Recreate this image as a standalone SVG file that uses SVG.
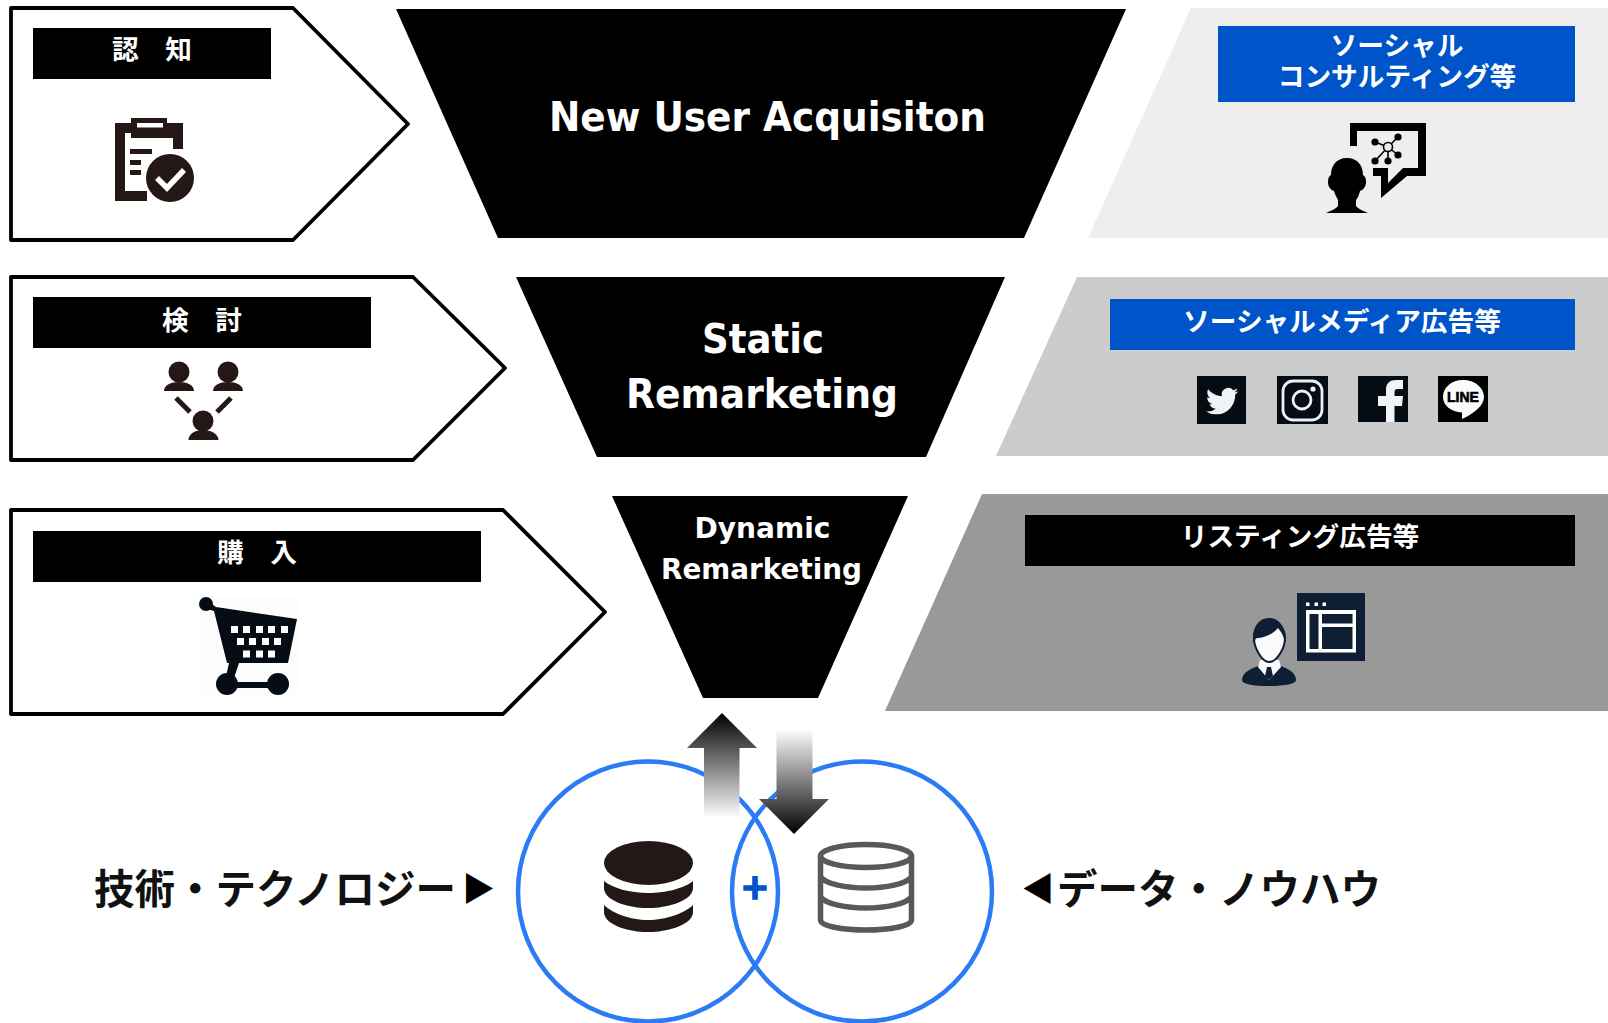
<svg xmlns="http://www.w3.org/2000/svg" width="1608" height="1023" viewBox="0 0 1608 1023">
<style>
.jp{font-family:"Noto Sans CJK JP","Noto Sans",sans-serif;font-weight:700;text-anchor:middle}
.lb{font-size:26.700px;fill:#fff}
.big{font-size:40.500px;fill:#111;text-anchor:start}
.tri{font-size:33px;fill:#000}
.en{font-family:"DejaVu Sans","Liberation Sans",sans-serif;font-weight:700;fill:#fff;text-anchor:middle}
.pent{fill:#fff;stroke:#000;stroke-width:3.800;stroke-linejoin:round}
.ic{fill:#231815}
.dk{fill:#050c14}
.lt{fill:#f2f3f5}
.nv{fill:#0f1f33}
.ring{fill:none;stroke:#2a7bf5;stroke-width:4.500}
.db{fill:none;stroke:#595959;stroke-width:5.500}
</style>
<defs>
<linearGradient id="gu" x1="0" y1="0" x2="0" y2="1"><stop offset="0" stop-color="#000"/><stop offset="1" stop-color="#fff"/></linearGradient>
<linearGradient id="gd" x1="0" y1="1" x2="0" y2="0"><stop offset="0" stop-color="#000"/><stop offset="1" stop-color="#fff"/></linearGradient>
</defs>
<rect width="1608" height="1023" fill="#fff"/>

<g id="panel-1">
<polygon points="1191,8 1608,8 1608,238 1088,238" fill="#eee"/>
<rect x="1218" y="26" width="357" height="76" fill="#0054c9"/>
<text class="jp lb" x="1397" y="55">ソーシャル</text>
<text class="jp lb" x="1397" y="86">コンサルティング等</text>
<path fill="#000" d="M1350 146V123H1426V176H1407L1381 198V176H1373V168H1388V183L1403 168H1418V131H1357V146Z"/>
<path fill="none" stroke="#000" stroke-width="1.600" d="M1375 142L1388 147L1398 137M1388 147L1398 155M1388 147V161M1388 147L1375 161"/>
<circle cx="1388" cy="147" r="4.500" fill="#eee" stroke="#000" stroke-width="1.600"/>
<circle cx="1375" cy="142" r="3.600"/><circle cx="1398" cy="137" r="3.600"/><circle cx="1398" cy="155" r="3.600"/><circle cx="1388" cy="161" r="3.600"/><circle cx="1375" cy="161" r="3.600"/>
<path fill="#000" d="M1347 158C1336 158 1331 166 1331 175C1329 176 1328 178 1328 182C1328 187 1331 190 1334 191C1335 195 1337 198 1338 200V206C1336 209 1330 211 1326 213H1368C1364 211 1358 209 1356 206V200C1358 198 1359 195 1360 191C1363 190 1366 187 1366 182C1366 178 1365 176 1363 175C1363 166 1358 158 1347 158Z"/>
</g>

<g id="panel-2">
<polygon points="1077,277 1608,277 1608,456 996,456" fill="#ccc"/>
<rect x="1110" y="299" width="465" height="51" fill="#0054c9"/>
<text class="jp lb" x="1342" y="331">ソーシャルメディア広告等</text>
<rect class="dk" x="1197" y="376" width="49" height="48"/>
<path class="lt" transform="translate(1206 385) scale(1.35)" d="M23.953 4.57a10 10 0 01-2.825.775 4.958 4.958 0 002.163-2.723c-.951.555-2.005.959-3.127 1.184a4.92 4.92 0 00-8.384 4.482C7.69 8.095 4.067 6.13 1.64 3.162a4.822 4.822 0 00-.666 2.475c0 1.71.87 3.213 2.188 4.096a4.904 4.904 0 01-2.228-.616v.06a4.923 4.923 0 003.946 4.827 4.996 4.996 0 01-2.212.085 4.936 4.936 0 004.604 3.417 9.867 9.867 0 01-6.102 2.105c-.39 0-.779-.023-1.17-.067a13.995 13.995 0 007.557 2.209c9.053 0 13.998-7.496 13.998-13.985 0-.21 0-.42-.015-.63A9.935 9.935 0 0024 4.59z"/>
<rect class="dk" x="1277" y="376" width="51" height="48"/>
<rect x="1283" y="381" width="39" height="39" rx="10" fill="none" stroke="#eef0f2" stroke-width="2.800"/>
<circle cx="1302" cy="400" r="9" fill="none" stroke="#eef0f2" stroke-width="2.800"/>
<circle cx="1313" cy="389" r="2.600" fill="#eef0f2"/>
<rect class="dk" x="1358" y="376" width="50" height="46"/>
<path class="lt" d="M1386 422V406H1378V396H1386V390C1386 383 1390 380 1396 380H1403V389H1398C1395 389 1394.500 390 1394.500 392V396H1403L1402 406H1394.500V422Z"/>
<rect x="1438" y="376" width="50" height="46" fill="#000"/>
<path fill="#fbfbfd" d="M1463 380C1474.500 380 1484 387.500 1484 397C1484 405 1475 413 1462 419V412.500C1451 412 1443 405.500 1443 397C1443 387.500 1451.500 380 1463 380Z"/>
<text x="1463" y="402" text-anchor="middle" font-family="Liberation Sans,sans-serif" font-weight="700" font-size="14" stroke="#000" stroke-width=".6" fill="#000">LINE</text>
</g>

<g id="panel-3">
<polygon points="982,494 1608,494 1608,711 885,711" fill="#999"/>
<rect x="1025" y="515" width="550" height="51" fill="#000"/>
<text class="jp lb" x="1300" y="546">リスティング広告等</text>
<rect class="nv" x="1297" y="593" width="68" height="68"/>
<rect x="1306" y="602.500" width="3.500" height="3.500" fill="#fff"/><rect x="1314.500" y="602.500" width="3.500" height="3.500" fill="#fff"/><rect x="1322.500" y="602.500" width="3.500" height="3.500" fill="#fff"/>
<rect x="1306" y="610" width="50" height="42.500" fill="#fff"/>
<rect class="nv" x="1309.500" y="614" width="9" height="35"/><rect class="nv" x="1322" y="614" width="30.500" height="9.500"/><rect class="nv" x="1322" y="627" width="30.500" height="22"/>
<path class="nv" d="M1242 680C1242 672 1252 668 1261 665H1278C1287 668 1296 672 1296 680C1296 684 1285 686 1269 686C1253 686 1242 684 1242 680Z"/>
<path fill="#fbfbfd" d="M1260 660H1279L1281 667L1269 680L1258 667Z"/>
<path class="nv" d="M1267 667H1271L1273 676L1269 680L1265 676Z"/>
<path fill="#fbfbfd" stroke="#0f1f33" stroke-width="2" d="M1254 638C1254 648 1262 662 1269 662C1277 662 1285 648 1285 638C1285 630 1280 620 1269 620C1258 620 1254 630 1254 638Z"/>
<path class="nv" d="M1253 643C1252 628 1258 618 1269 618C1280 618 1286 628 1285 643C1284 638 1283 634 1278 628C1272 635 1264 638 1257 638C1255 639 1254 641 1253 643Z"/>
</g>

<g id="stage-1">
<polygon class="pent" points="11,8 293,8 408,124 293,240 11,240"/>
<rect x="33" y="28" width="238" height="51"/>
<text class="jp lb" x="152" y="59">認　知</text>
<path class="ic" d="M115 123H131V118H167V123H183V149H173V138H131V133H125V191H147V201H115Z"/>
<rect x="137" y="123" width="26" height="4.500" fill="#fff"/>
<rect class="ic" x="130" y="149" width="22" height="5"/><rect class="ic" x="130" y="160" width="11" height="5"/><rect class="ic" x="130" y="170" width="11" height="5"/>
<circle class="ic" cx="170" cy="178" r="24"/>
<path d="M157 178L167 188L184 170" fill="none" stroke="#fff" stroke-width="5.500"/>
</g>

<g id="stage-2">
<polygon class="pent" points="11,277 413,277 505,368 413,460 11,460"/>
<rect x="33" y="297" width="338" height="51"/>
<text class="jp lb" x="202" y="330">検　討</text>
<circle class="ic" cx="179" cy="372" r="10.500"/><path class="ic" d="M164 391C164 385 171 382 179 382C187 382 194 385 194 391Z"/>
<circle class="ic" cx="228" cy="372" r="10.500"/><path class="ic" d="M213 391C213 385 220 382 228 382C236 382 243 385 243 391Z"/>
<circle class="ic" cx="203" cy="421" r="10.500"/><path class="ic" d="M188.500 440C188.500 434 195 430 203 430C211 430 218.500 434 218.500 440Z"/>
<path d="M176 398L190 412M231 398L217 412" stroke="#231815" stroke-width="5" fill="none"/>
</g>

<g id="stage-3">
<polygon class="pent" points="11,510 503,510 605,612 503,714 11,714"/>
<rect x="33" y="531" width="448" height="51"/>
<text class="jp lb" x="257" y="562">購　入</text>
<rect x="200" y="598" width="98" height="97" fill="#fcfcfc"/>
<g class="dk">
<circle cx="206" cy="604" r="7"/>
<path d="M206 600L216 607L297 619L288 663H239L233 681H225L229 663H227L214 611L203 608Z"/>
<circle cx="227" cy="684" r="11"/><circle cx="278" cy="684" r="11"/>
<rect x="227" y="682" width="51" height="6"/>
</g>
<g fill="#fff">
<rect x="231" y="626" width="7" height="7"/><rect x="243" y="626" width="7" height="7"/><rect x="256" y="626" width="7" height="7"/><rect x="268" y="626" width="7" height="7"/><rect x="281" y="626" width="7" height="7"/>
<rect x="237" y="638" width="7" height="7"/><rect x="249" y="638" width="7" height="7"/><rect x="262" y="638" width="7" height="7"/><rect x="274" y="638" width="7" height="7"/>
<rect x="243" y="650.500" width="7" height="7"/><rect x="256" y="650.500" width="7" height="7"/><rect x="268" y="650.500" width="7" height="7"/>
</g>
</g>

<g id="funnel-1">
<polygon points="396,9 1126,9 1024,238 498,238" fill="#000"/>
<text class="en" x="767.500" y="131" font-size="40" textLength="437" lengthAdjust="spacingAndGlyphs">New User Acquisiton</text>
</g>
<g id="funnel-2">
<polygon points="516,277 1005,277 926,457 597,457" fill="#000"/>
<text class="en" x="763" y="353" font-size="40" textLength="122" lengthAdjust="spacingAndGlyphs">Static</text>
<text class="en" x="762" y="408" font-size="40" textLength="272" lengthAdjust="spacingAndGlyphs">Remarketing</text>
</g>
<g id="funnel-3">
<polygon points="612,496 908,496 818,698 703,698" fill="#000"/>
<text class="en" x="762.500" y="538" font-size="29" textLength="136" lengthAdjust="spacingAndGlyphs">Dynamic</text>
<text class="en" x="761.500" y="579" font-size="29" textLength="201" lengthAdjust="spacingAndGlyphs">Remarketing</text>
</g>

<g id="venn-left">
<circle class="ring" cx="648" cy="891.500" r="130"/>
<ellipse class="ic" cx="648.500" cy="863" rx="44.500" ry="22"/>
<path class="ic" d="M604 881C612 888 630 893 648 893C666 893 685 888 693 881V888C693 900 670 908 648 908C626 908 604 900 604 888Z"/>
<path class="ic" d="M604 905C612 913 630 920 648 920C666 920 685 913 693 905V912C693 924 670 932 648 932C626 932 604 924 604 912Z"/>
</g>
<g id="venn-right">
<circle class="ring" cx="862" cy="891.500" r="130"/>
<ellipse class="db" cx="866" cy="856" rx="45.500" ry="11.500"/>
<path class="db" d="M820.500 856V920C820.500 926 842 930 866 930C890 930 911.500 926 911.500 920V856M820.500 877C826 884 846 888 866 888C886 888 906 884 911.500 877M820.500 897C826 904 846 908 866 908C886 908 906 904 911.500 897"/>
</g>
<text x="755" y="899" text-anchor="middle" font-family="DejaVu Sans,sans-serif" font-weight="700" font-size="35" stroke="#0054c9" stroke-width="1.500" fill="#0054c9">+</text>

<g id="connectors">
<polygon points="722,713 757,748 739.500,748 739.500,818 704,818 704,748 687,748" fill="url(#gu)"/>
<polygon points="794,834 829,799 812.500,799 812.500,729 776.500,729 776.500,799 759,799" fill="url(#gd)"/>
</g>

<g id="captions">
<text class="jp big" x="94" y="904">技術・テクノロジー<tspan class="tri" x="462" y="901">▶</tspan></text>
<text class="jp big" x="1057" y="904">データ・ノウハウ</text>
<text class="jp tri" x="1038" y="901">◀</text>
</g>
</svg>
